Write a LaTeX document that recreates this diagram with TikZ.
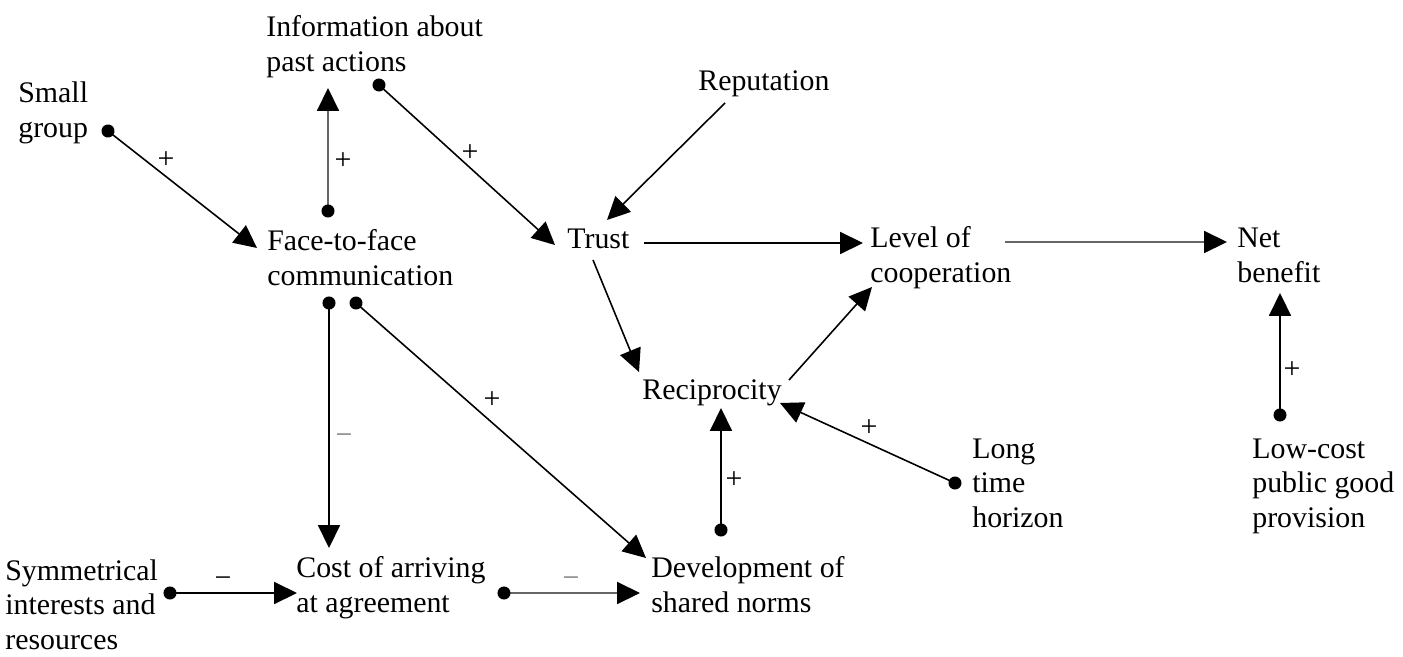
\documentclass[tikz,border=0pt]{standalone}
\usepackage{fontspec}
\setmainfont{Liberation Serif}
\usetikzlibrary{arrows.meta}
\begin{document}
\begin{tikzpicture}[x=0.02cm,y=-0.02cm,
  txt/.style={inner sep=0pt, anchor=base west, align=left, font=\fontsize{17}{19.4}\selectfont},
  tip/.style={line width=0.9pt, -{Triangle[length=13pt,width=12.5pt,color=black]}},
  lnk/.style={line width=0.9pt, {Circle[length=7.4pt,color=black]}-{Triangle[length=13pt,width=12.5pt,color=black]}, shorten <=-3.7pt},
  soft/.style={draw=black!60},
  sgn/.style={inner sep=0pt, font=\fontsize{17}{17}\selectfont}]
\useasboundingbox (0,0) rectangle (1403,656);

% concept texts (positioned at the baseline of their last line)
\node[txt] (info) at (266,71) {Information about\\past actions};
\node[txt] (sg) at (18,137) {Small\\group};
\node[txt] (rep) at (698,90) {Reputation};
\node[txt] (ftf) at (267,285) {Face-to-face\\communication};
\node[txt] (trust) at (567,248) {Trust};
\node[txt] (lvl) at (870,282) {Level of\\cooperation};
\node[txt] (net) at (1237,282) {Net\\benefit};
\node[txt] (rec) at (642,399) {Reciprocity};
\node[txt] (long) at (972,527) {Long\\time\\horizon};
\node[txt] (low) at (1252,527) {Low-cost\\public good\\provision};
\node[txt] (sym) at (5,649) {Symmetrical\\interests and\\resources};
\node[txt] (cost) at (296,612) {Cost of arriving\\at agreement};
\node[txt] (dev) at (651,612) {Development of\\shared norms};

% ports
\coordinate (sg-o) at (108,131);   \coordinate (ftf-i1) at (257,248);
\coordinate (ftf-o1) at (328,211); \coordinate (info-i) at (328,88);
\coordinate (info-o) at (379,85);  \coordinate (trust-i1) at (555,245);
\coordinate (rep-o) at (725,103);  \coordinate (trust-i2) at (607,220);
\coordinate (trust-o1) at (644,243); \coordinate (lvl-i1) at (863,243);
\coordinate (lvl-o) at (1005,242); \coordinate (net-i1) at (1227,242);
\coordinate (trust-o2) at (593,260); \coordinate (rec-i1) at (639,372);
\coordinate (rec-o) at (789,380);  \coordinate (lvl-i2) at (872,287);
\coordinate (long-o) at (955,483); \coordinate (rec-i2) at (780,403);
\coordinate (dev-o) at (721,530);  \coordinate (rec-i3) at (721,408);
\coordinate (low-o) at (1280,415); \coordinate (net-i2) at (1280,293);
\coordinate (ftf-o2) at (329,303); \coordinate (cost-i1) at (329,548);
\coordinate (ftf-o3) at (356,303); \coordinate (dev-i1) at (646,558);
\coordinate (sym-o) at (170,593);  \coordinate (cost-i2) at (297,593);
\coordinate (cost-o) at (504,593); \coordinate (dev-i2) at (640,593);

% connectors
\draw[lnk] (sg-o) -- (ftf-i1);
\draw[lnk,soft] (ftf-o1) -- (info-i);
\draw[lnk] (info-o) -- (trust-i1);
\draw[tip] (rep-o) -- (trust-i2);
\draw[tip] (trust-o1) -- (lvl-i1);
\draw[tip,soft] (lvl-o) -- (net-i1);
\draw[tip] (trust-o2) -- (rec-i1);
\draw[tip] (rec-o) -- (lvl-i2);
\draw[lnk] (long-o) -- (rec-i2);
\draw[lnk] (dev-o) -- (rec-i3);
\draw[lnk] (low-o) -- (net-i2);
\draw[lnk] (ftf-o2) -- (cost-i1);
\draw[lnk] (ftf-o3) -- (dev-i1);
\draw[lnk] (sym-o) -- (cost-i2);
\draw[lnk,soft] (cost-o) -- (dev-i2);

% signs
\node[sgn] (s1) at (166,160) {+};
\node[sgn] (s2) at (343,161) {+};
\node[sgn] (s3) at (470,153) {+};
\node[sgn] (s4) at (492,400) {+};
\node[sgn] (s5) at (869,428) {+};
\node[sgn] (s6) at (734,480) {+};
\node[sgn] (s7) at (1292,370) {+};
\node[sgn,text=black!50] (s8) at (344,439) {−};
\node[sgn] (s9) at (223,582) {−};
\node[sgn,text=black!50] (s10) at (571,582) {−};
\end{tikzpicture}
\end{document}
